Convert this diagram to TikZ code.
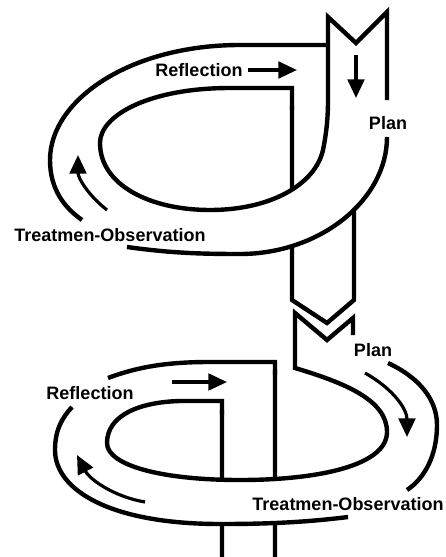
\documentclass[tikz,border=0pt]{standalone}
\usepackage{fontspec}
\setmainfont{Liberation Sans}
\usetikzlibrary{arrows.meta, positioning, intersections}

\begin{document}
\begin{tikzpicture}[
    x=0.75pt, y=-0.75pt,
    font=\bfseries\fontsize{13.5pt}{16pt}\selectfont,
    >={Triangle[length=14pt, width=12.5pt]},
    % Define styles
    band/.style={line width=3.3pt, line join=miter},
    flow/.style={->, line width=2.4pt},
    stagetext/.style={inner sep=0pt, text=black}
]
\useasboundingbox (0,0) rectangle (446,557);

% 1. Upper loop
\draw[band, name path=upInner] (292,110) -- (292,88) -- (230,88)
    .. controls (150,88) and (100,115) .. (100,143)
    .. controls (100,185) and (150,210) .. (210,210)
    .. controls (270,210) and (315,185) .. (323,150)
    .. controls (327,130) and (328,115) .. (328,100)
    -- (328,17) -- (356,43) -- (387,12) -- (387,100);
\draw[band] (329,45) -- (240,45)
    .. controls (130,45) and (50,100) .. (50,160)
    .. controls (50,190) and (65,208) .. (82,220);
\draw[band, name path=upOuterB] (127,247)
    .. controls (170,253) and (200,254) .. (240,254)
    .. controls (320,254) and (387,200) .. (387,137);

% Upper stem
\path[name path=upStem] (292,120) -- (292,240);
\path[name path=tubeStemL] (292,200) -- (292,300);
\path[name path=tubeStemR] (354,150) -- (354,300);
\path[name intersections={of=upInner and upStem, by=upJoin}];
\path[name intersections={of=upOuterB and tubeStemL, by=tubeL}];
\path[name intersections={of=upOuterB and tubeStemR, by=tubeR}];
\draw[band] (292,105) -- (upJoin);
\draw[band] (tubeL) -- (292,300) -- (327,323) -- (354,300) -- (tubeR);

% 2. Lower loop
\draw[band, name path=lowInner] (353,335) -- (353,318) -- (327,340) -- (295,313) -- (295,368)
    .. controls (345,383) and (387,400) .. (387,432)
    .. controls (387,465) and (320,480) .. (240,480)
    .. controls (160,480) and (107,465) .. (107,443)
    .. controls (107,415) and (140,402) .. (180,401)
    -- (222,401) -- (222,415);
\draw[band] (108,378) .. controls (140,366) and (170,362) .. (210,362)
    -- (275,362) -- (275,375);
\draw[band] (388,363) .. controls (420,378) and (437,400) .. (437,425)
    .. controls (437,455) and (425,478) .. (407,490);
\draw[band, name path=lowOuterB] (348,517)
    .. controls (300,523) and (260,524) .. (220,524)
    .. controls (110,524) and (55,490) .. (55,450)
    .. controls (55,430) and (62,418) .. (72,407);

% Lower stem
\path[name path=lowStemL] (222,410) -- (222,557);
\path[name path=lowStemR] (275,370) -- (275,557);
\path[name intersections={of=lowInner and lowStemL, by=lowInL}];
\path[name intersections={of=lowInner and lowStemR, by=lowInR}];
\path[name intersections={of=lowOuterB and lowStemL, by=lowOutL}];
\path[name intersections={of=lowOuterB and lowStemR, by=lowOutR}];
\draw[band] (222,410) -- (lowInL);
\draw[band] (275,370) -- (lowInR);
\draw[band] (lowOutL) -- (222,557);
\draw[band] (lowOutR) -- (275,557);

% 3. Labels
\node[stagetext] (refl1) at (199,70) {Reflection};
\node[stagetext] (plan1) at (388,123) {Plan};
\node[stagetext] (obs1) at (110,235) {Treatmen-Observation};
\node[stagetext] (plan2) at (373,350) {Plan};
\node[stagetext] (refl2) at (90,393) {Reflection};
\node[stagetext] (obs2) at (348,504) {Treatmen-Observation};

% Arrows
\draw[flow] (248,70) -- (297,70);
\draw[flow] (356,55) -- (356,98);
\draw[flow] (107,210) .. controls (88,195) and (78,178) .. (78,155);
\draw[flow] (172,382) -- (227,382);
\draw[flow] (365,373) .. controls (395,390) and (407,410) .. (407,437);
\draw[flow] (145,502) .. controls (115,497) and (90,480) .. (77,455);

\end{tikzpicture}
\end{document}
